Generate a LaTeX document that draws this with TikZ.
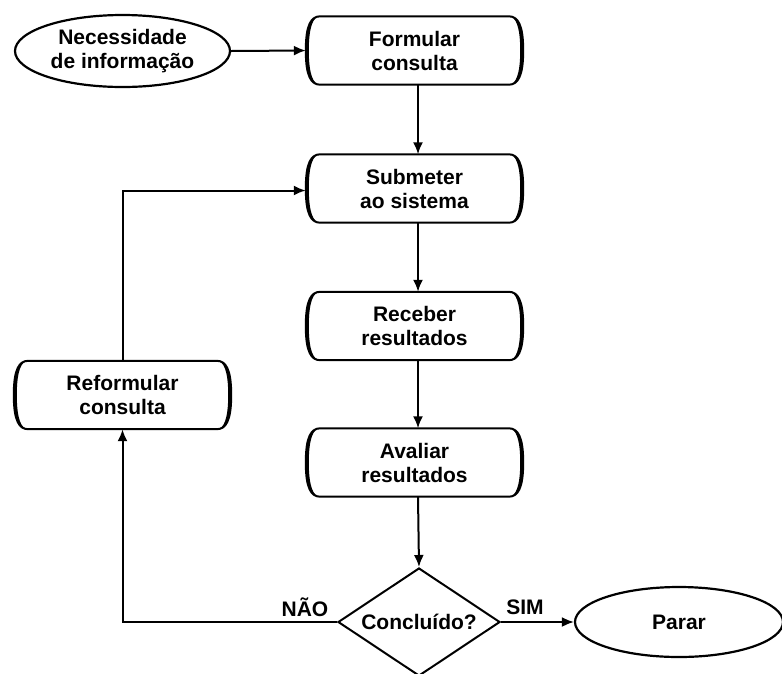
\documentclass[tikz,border=0pt]{standalone}
\usepackage{fontspec}
\setmainfont{Liberation Sans}
\usetikzlibrary{arrows.meta,shapes.geometric}
\newcommand\procbox[3]{%
  \node[pnode] (#1) at (#2) {#3};
  \draw[boxline]
    ([xshift=12pt]#1.north west) -- ([xshift=-12pt]#1.north east)
    .. controls ([xshift=-3pt]#1.north east) and ([xshift=2.5pt,yshift=-8pt]#1.north east) .. ([xshift=2.5pt]#1.east)
    .. controls ([xshift=2.5pt,yshift=8pt]#1.south east) and ([xshift=-3pt]#1.south east) .. ([xshift=-12pt]#1.south east)
    -- ([xshift=12pt]#1.south west)
    .. controls ([xshift=3pt]#1.south west) and ([xshift=-2.5pt,yshift=8pt]#1.south west) .. ([xshift=-2.5pt]#1.west)
    .. controls ([xshift=-2.5pt,yshift=-8pt]#1.north west) and ([xshift=3pt]#1.north west) .. cycle;
  \fill
    ([xshift=12pt]#1.north west)
    .. controls ([xshift=3pt]#1.north west) and ([xshift=-2.5pt,yshift=-8pt]#1.north west) .. ([xshift=-2.5pt]#1.west)
    .. controls ([xshift=-2.5pt,yshift=8pt]#1.south west) and ([xshift=3pt]#1.south west) .. ([xshift=12pt]#1.south west)
    .. controls ([xshift=5pt]#1.south west) and ([xshift=0.5pt,yshift=10pt]#1.south west) .. ([xshift=0.5pt]#1.west)
    .. controls ([xshift=0.5pt,yshift=-10pt]#1.north west) and ([xshift=5pt]#1.north west) .. cycle;
  \fill
    ([xshift=-12pt]#1.north east)
    .. controls ([xshift=-3pt]#1.north east) and ([xshift=2.5pt,yshift=-8pt]#1.north east) .. ([xshift=2.5pt]#1.east)
    .. controls ([xshift=2.5pt,yshift=8pt]#1.south east) and ([xshift=-3pt]#1.south east) .. ([xshift=-12pt]#1.south east)
    .. controls ([xshift=-5pt]#1.south east) and ([xshift=-0.5pt,yshift=10pt]#1.south east) .. ([xshift=-0.5pt]#1.east)
    .. controls ([xshift=-0.5pt,yshift=-10pt]#1.north east) and ([xshift=-5pt]#1.north east) .. cycle;
}
\tikzset{
  txt/.style={font=\bfseries\fontsize{21}{24}\selectfont, align=center, text=black},
  pnode/.style={txt, minimum width=212pt, minimum height=68pt, inner sep=0pt},
  boxline/.style={line width=2pt, line join=round},
  oval/.style={txt, ellipse, draw, line width=2.2pt, inner sep=0pt},
  decision/.style={txt, diamond, aspect=1.5, draw, line width=2pt, minimum width=162pt, minimum height=108pt, inner sep=0pt},
  conn/.style={line width=2pt, -{Latex[length=12pt,width=10pt]}},
  lbl/.style={font=\bfseries\fontsize{21}{24}\selectfont}
}
\begin{document}
\begin{tikzpicture}[x=1pt,y=-1pt]
\useasboundingbox (0,0) rectangle (782,673);
\node[oval, minimum width=215pt, minimum height=72pt] (nec) at (122.5,51) {Necessidade\\de informação};
\procbox{form}{414.5,50.5}{Formular\\consulta}
\procbox{sub}{414.5,188.5}{Submeter\\ao sistema}
\procbox{rec}{414.5,326}{Receber\\resultados}
\procbox{aval}{414.5,462.5}{Avaliar\\resultados}
\procbox{refo}{122.5,395}{Reformular\\consulta}
\node[decision] (dia) at (419,622) {Concluído?};
\node[oval, minimum width=208pt, minimum height=70pt] (parar) at (679,622) {Parar};
\coordinate (ax) at (418,0);
\draw[conn] (nec.east) -- ([xshift=-2.5pt]form.west);
\draw[conn] (ax |- form.south) -- (ax |- sub.north);
\draw[conn] (ax |- sub.south) -- (ax |- rec.north);
\draw[conn] (ax |- rec.south) -- (ax |- aval.north);
\draw[conn] (ax |- aval.south) -- (dia.north);
\draw[conn] (dia.east) -- (parar.west);
\draw[conn] (dia.west) -| (refo.south);
\draw[conn] (refo.north) |- ([xshift=-2.5pt,yshift=-2pt]sub.west);
\node[lbl] (nao) at (305,607) {NÃO};
\node[lbl] (sim) at (525,607) {SIM};
\end{tikzpicture}
\end{document}
